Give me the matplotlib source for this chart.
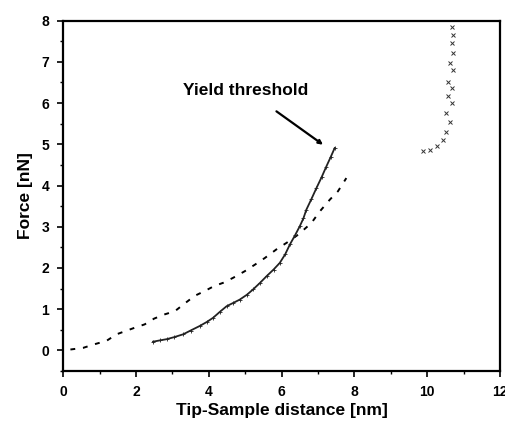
import matplotlib
matplotlib.use('Agg')
from matplotlib import pyplot as plt
from matplotlib.ticker import MultipleLocator

# approach curve (dashed)
approach_x = [0.2, 0.55, 0.87, 1.19, 1.47, 1.72, 1.97, 2.24, 2.5, 2.78, 3.07, 3.3, 3.61,
              3.89, 4.15, 4.4, 4.67, 4.99, 5.27, 5.54, 5.86, 6.14, 6.46, 6.82, 7.05,
              7.33, 7.55, 7.78]
approach_y = [0.02, 0.06, 0.15, 0.23, 0.39, 0.47, 0.55, 0.63, 0.77, 0.87, 0.95, 1.11, 1.32,
              1.44, 1.56, 1.64, 1.76, 1.92, 2.08, 2.24, 2.45, 2.61, 2.81, 3.09, 3.37,
              3.66, 3.86, 4.18]

# loading curve (dense markers)
load_x = [2.47, 2.65, 2.84, 3.05, 3.3, 3.5, 3.75, 3.95, 4.12, 4.3, 4.49, 4.67, 4.85, 5.05,
          5.22, 5.4, 5.59, 5.78, 5.95, 6.1, 6.23, 6.37, 6.5, 6.6, 6.68, 6.82, 6.96,
          7.1, 7.23, 7.35, 7.46]
load_y = [0.21, 0.24, 0.27, 0.32, 0.39, 0.48, 0.59, 0.69, 0.79, 0.93, 1.07, 1.15, 1.23, 1.35,
          1.48, 1.63, 1.8, 1.96, 2.12, 2.33, 2.57, 2.79, 3.01, 3.2, 3.41, 3.67, 3.94,
          4.2, 4.46, 4.69, 4.91]

# retraction after yield
retract_x = [9.89, 10.07, 10.26, 10.44, 10.53, 10.62, 10.53, 10.67, 10.58, 10.67, 10.58,
             10.71, 10.62, 10.71, 10.67, 10.71, 10.67]
retract_y = [4.83, 4.87, 4.95, 5.11, 5.31, 5.55, 5.75, 6.0, 6.16, 6.36, 6.52,
             6.8, 6.97, 7.21, 7.45, 7.65, 7.85]

plt.rcParams['font.family'] = ['Liberation Sans', 'DejaVu Sans']
plt.rcParams['font.weight'] = 'bold'

fig = plt.figure(figsize=(5.05, 4.22), dpi=100)
ax = fig.add_axes([0.125, 0.121, 0.865, 0.830])

ax.plot(approach_x, approach_y, color='black', lw=1.4, ls=(0, (2.5, 4)))
ax.plot(load_x, load_y, color='#222222', lw=1.3, marker='+', markersize=3, mew=0.6)
ax.plot(retract_x, retract_y, color='#333333', lw=0, marker='x', markersize=2.5, mew=0.7)

ax.text(5.0, 6.3, 'Yield threshold', fontsize=12.5, fontweight='bold',
        ha='center', va='center')
ax.annotate('', xy=(7.14, 4.99), xytext=(5.86, 5.8),
            arrowprops=dict(arrowstyle='-|>', color='black', lw=1.6,
                            shrinkA=0, shrinkB=0, mutation_scale=6))

ax.set_xlim(0, 12)
ax.set_ylim(-0.5, 8)
ax.xaxis.set_major_locator(MultipleLocator(2))
ax.xaxis.set_minor_locator(MultipleLocator(1))
ax.yaxis.set_major_locator(MultipleLocator(1))
ax.yaxis.set_minor_locator(MultipleLocator(0.5))
ax.tick_params(which='major', direction='out', length=4, width=1.2, labelsize=10, pad=6)
ax.tick_params(which='minor', direction='out', length=2, width=1)
for lab in ax.get_xticklabels() + ax.get_yticklabels():
    lab.set_fontweight('bold')
for s in ax.spines.values():
    s.set_linewidth(1.6)

ax.set_xlabel('Tip-Sample distance [nm]', fontsize=12.5, fontweight='bold', labelpad=3)
ax.set_ylabel('Force [nN]', fontsize=12.5, fontweight='bold', labelpad=6)

plt.savefig('out.png', dpi=100)
